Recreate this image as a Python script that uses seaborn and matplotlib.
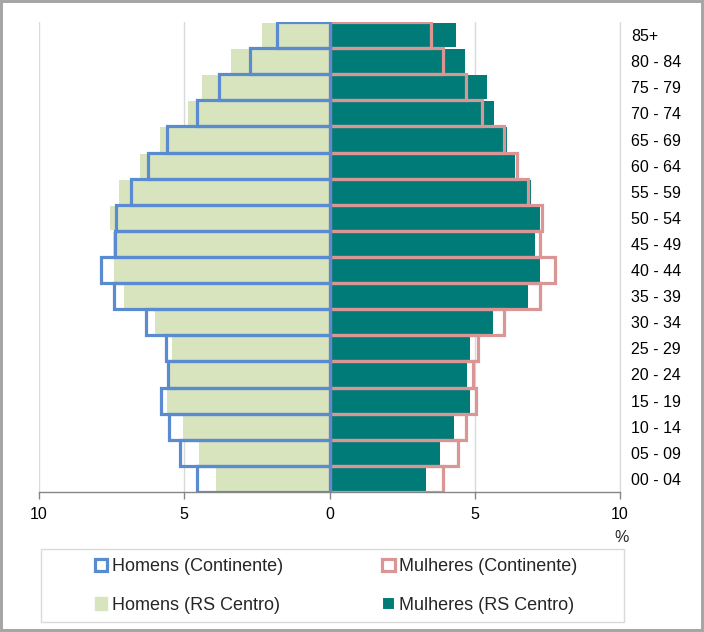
# -*- coding: utf-8 -*-

# Import necessary libraries
import numpy as np
import pandas as pd
import matplotlib
matplotlib.use("Agg")
import matplotlib.pyplot as plt
from matplotlib.patches import Patch, Rectangle
import seaborn as sns

# Age groups, top to bottom
ages = ["85+", "80 - 84", "75 - 79", "70 - 74", "65 - 69", "60 - 64", "55 - 59",
        "50 - 54", "45 - 49", "40 - 44", "35 - 39", "30 - 34", "25 - 29",
        "20 - 24", "15 - 19", "10 - 14", "05 - 09", "00 - 04"]

# Percentages
homens_continente = [1.80, 2.73, 3.79, 4.56, 5.61, 6.25, 6.84, 7.35, 7.37, 7.86,
                     7.43, 6.31, 5.62, 5.55, 5.79, 5.51, 5.13, 4.55]
homens_rs_centro = [2.32, 3.38, 4.38, 4.88, 5.85, 6.54, 7.23, 7.54, 7.45, 7.42,
                    7.06, 6.02, 5.42, 5.49, 5.58, 5.05, 4.48, 3.90]
mulheres_continente = [3.50, 3.92, 4.70, 5.24, 5.99, 6.45, 6.83, 7.32, 7.26, 7.75,
                       7.26, 6.02, 5.11, 4.93, 5.05, 4.70, 4.44, 3.92]
mulheres_rs_centro = [4.34, 4.68, 5.42, 5.65, 6.10, 6.40, 6.94, 7.26, 7.09, 7.26,
                      6.83, 5.62, 4.82, 4.73, 4.82, 4.30, 3.82, 3.33]

xtick_values = [-10, -5, 0, 5, 10]
xtick_labels = ["10", "5", "0", "5", "10"]

# Colours
blue = "#5A8AD0"
pink = "#D99694"
green = "#D7E4BD"
teal = "#007B78"

df = pd.DataFrame({
    "idade": ages,
    "h_cont": -np.array(homens_continente),
    "h_rs": -np.array(homens_rs_centro),
    "m_cont": mulheres_continente,
    "m_rs": mulheres_rs_centro,
})

sns.set_style("white")
plt.rcParams["font.family"] = ["Liberation Sans", "DejaVu Sans"]

fig = plt.figure(figsize=(7.04, 6.32), dpi=100)
ax = fig.add_axes([39 / 704, 1 - 492 / 632, 581 / 704, 470 / 632])

# gridlines behind the bars
for v in [-10, -5, 5, 10]:
    ax.axvline(v, color="#D9D9D9", lw=1, zorder=0)

# filled bars (RS Centro)
sns.barplot(data=df, x="h_rs", y="idade", orient="h", color=green, width=0.92,
            errorbar=None, saturation=1, linewidth=0, ax=ax, zorder=1)
sns.barplot(data=df, x="m_rs", y="idade", orient="h", color=teal, width=0.92,
            errorbar=None, saturation=1, linewidth=0, ax=ax, zorder=1)

# outline bars (Continente)
sns.barplot(data=df, x="m_cont", y="idade", orient="h", color=pink, fill=False,
            width=1.0, errorbar=None, saturation=1, linewidth=2.3, ax=ax, zorder=2)
sns.barplot(data=df, x="h_cont", y="idade", orient="h", color=blue, fill=False,
            width=1.0, errorbar=None, saturation=1, linewidth=2.3, ax=ax, zorder=3)

ax.set_xlim(-10, 10)
ax.set_ylim(len(ages) - 0.5, -0.5)
ax.set_xlabel("")
ax.set_ylabel("")

ax.set_xticks(xtick_values)
ax.set_xticklabels(xtick_labels, fontsize=11.5, color="#000000")
ax.yaxis.tick_right()
ax.tick_params(axis="y", length=0, pad=8, labelsize=11.5, labelcolor="#000000")
ax.tick_params(axis="x", direction="out", length=5, width=1, color="#868686",
               bottom=True, pad=6)
for lab in ax.get_yticklabels():
    lab.set_horizontalalignment("left")

for side in ["top", "left"]:
    ax.spines[side].set_visible(False)
ax.spines["right"].set_color("#D9D9D9")
ax.spines["bottom"].set_color("#868686")
ax.spines["bottom"].set_linewidth(1)

fig.text(622 / 704, 1 - 538 / 632, "%", fontsize=11.5, ha="center", va="center")

# Legend in its own box
fig.patches.append(Rectangle((41 / 704, 1 - 622 / 632), 583 / 704, 73 / 632,
                             transform=fig.transFigure, fill=False,
                             edgecolor="#D9D9D9", lw=1))
handles = [
    Patch(facecolor="white", edgecolor=blue, linewidth=2.3, label="Homens (Continente)"),
    Patch(facecolor=green, edgecolor=green, label="Homens (RS Centro)"),
    Patch(facecolor="white", edgecolor=pink, linewidth=2.3, label="Mulheres (Continente)"),
    Patch(facecolor=teal, edgecolor="white", linewidth=1.5, label="Mulheres (RS Centro)"),
]
fig.legend(handles=handles, ncol=2, loc="center", frameon=False,
           bbox_to_anchor=(336 / 704, 1 - 586 / 632), fontsize=13,
           handlelength=0.7, handleheight=0.7, handletextpad=0.25,
           columnspacing=5.5, labelspacing=1.2)

# Outer chart border
fig.patch.set_edgecolor("#A6A6A6")
fig.patch.set_linewidth(3)

plt.savefig("out.png", dpi=100, edgecolor=fig.get_edgecolor())
